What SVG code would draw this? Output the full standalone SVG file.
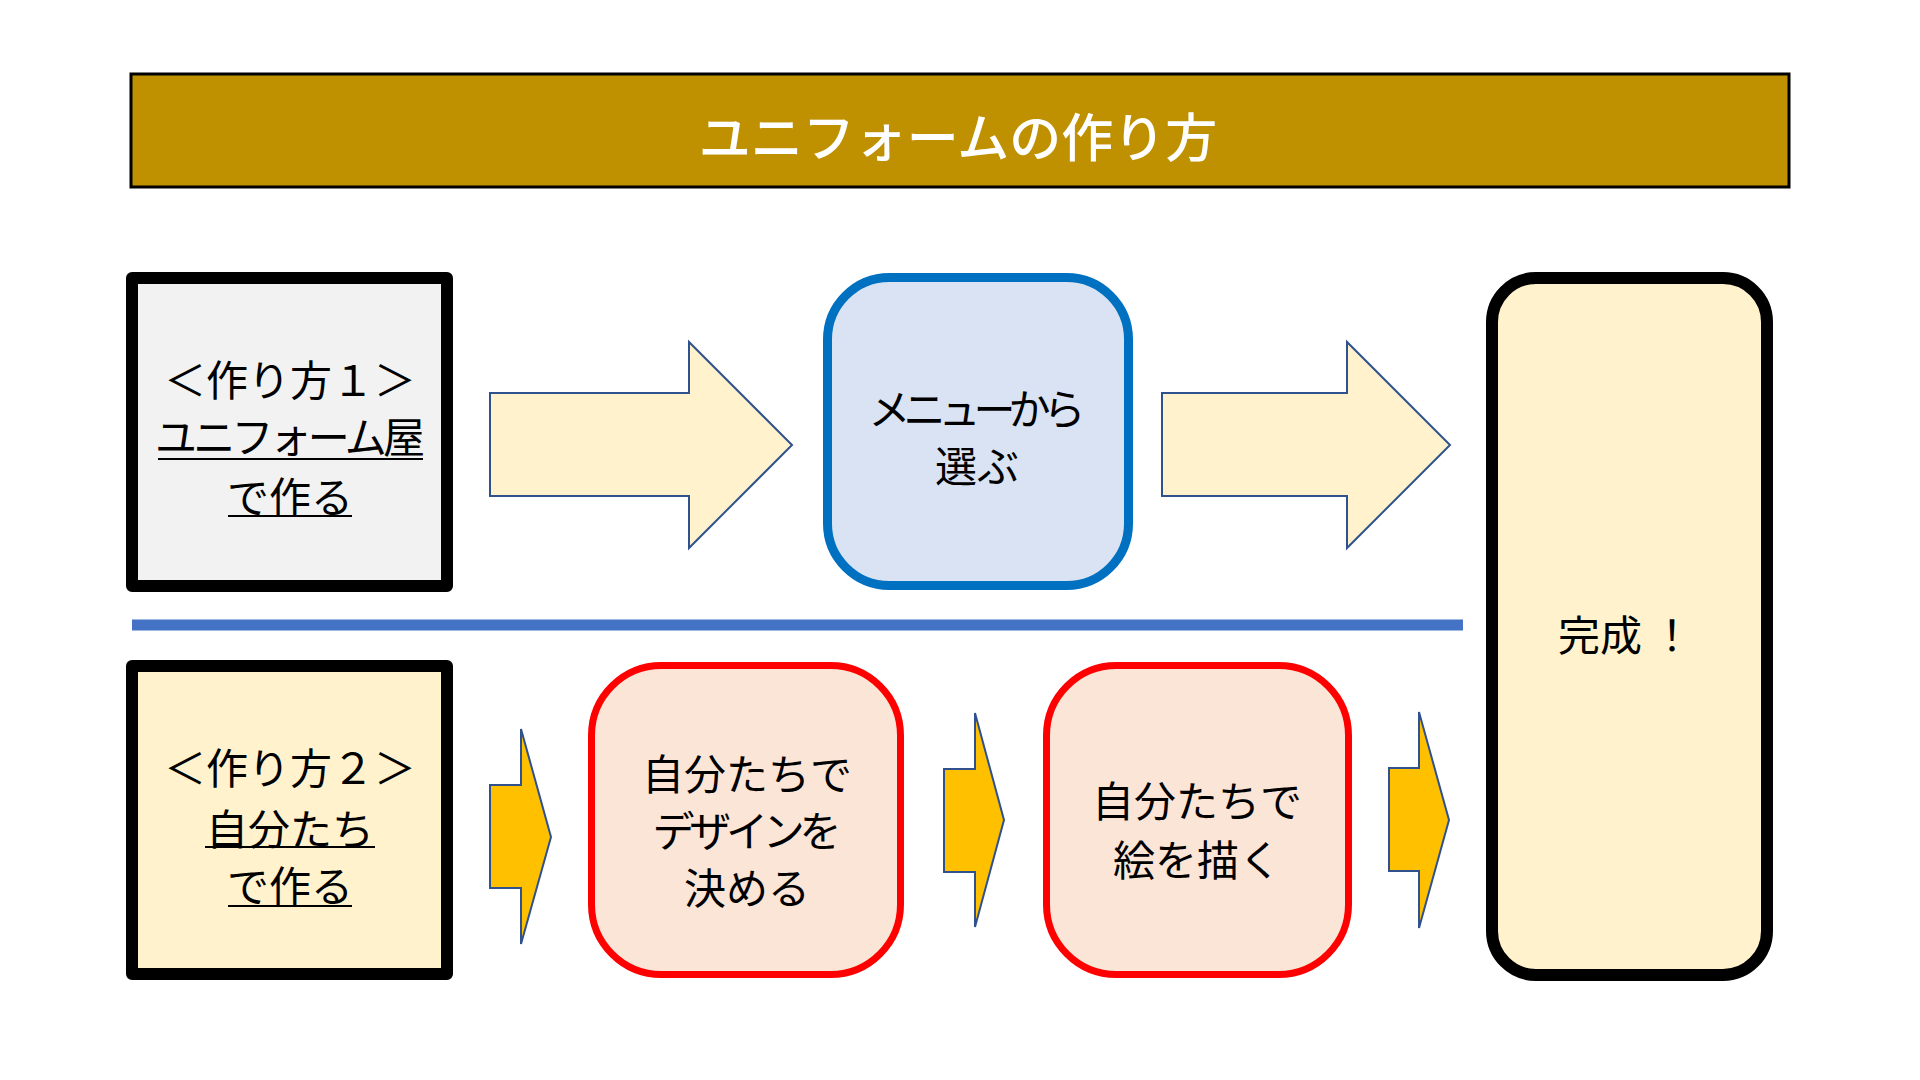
<svg xmlns="http://www.w3.org/2000/svg" width="1920" height="1080" viewBox="0 0 1920 1080">
<defs>
<style>
.t{font-family:"Noto Sans CJK JP","Noto Sans",sans-serif;font-size:42px;fill:#000;text-anchor:middle;dominant-baseline:central}
.ul{stroke:#000;stroke-width:2}
.big{fill:#FFF2CC;stroke:#2F528F;stroke-width:2;stroke-linejoin:miter}
.sm{fill:#FFC000;stroke:#2F528F;stroke-width:2;stroke-linejoin:miter}
.red{fill:#FBE5D6;stroke:#FF0000;stroke-width:7}
</style>
</defs>
<rect width="1920" height="1080" fill="#FFFFFF"/>

<g id="title">
<rect x="131" y="74" width="1658" height="113" fill="#BF9000" stroke="#000" stroke-width="3"/>
<text x="958" y="134" class="t" style="fill:#FFFFFF;font-size:52px;font-weight:500">ユニフォームの作り方</text>
</g>

<g id="separator">
<line x1="132" y1="625" x2="1463" y2="625" stroke="#4472C4" stroke-width="11"/>
</g>

<g id="method1">
<rect x="132" y="278" width="315" height="308" fill="#F2F2F2" stroke="#000" stroke-width="12" stroke-linejoin="round"/>
<text x="290" y="377" class="t">＜作り方１＞</text>
<text x="290" y="434" class="t" textLength="270" lengthAdjust="spacing">ユニフォーム屋</text>
<text x="290" y="494" class="t">で作る</text>
<line x1="158" y1="459" x2="423" y2="459" class="ul"/>
<line x1="228" y1="516" x2="352" y2="516" class="ul"/>
</g>

<g id="method2">
<rect x="132" y="666" width="315" height="308" fill="#FFF2CC" stroke="#000" stroke-width="12" stroke-linejoin="round"/>
<text x="290" y="765" class="t">＜作り方２＞</text>
<text x="290" y="826" class="t">自分たち</text>
<text x="290" y="883" class="t">で作る</text>
<line x1="205" y1="847" x2="375" y2="847" class="ul"/>
<line x1="228" y1="906" x2="352" y2="906" class="ul"/>
</g>

<g id="menu">
<rect x="827.5" y="277.5" width="301" height="308" rx="62" ry="62" fill="#DAE3F3" stroke="#0070C0" stroke-width="9"/>
<text x="977" y="406" class="t" textLength="217" lengthAdjust="spacing">メニューから</text>
<text x="977" y="463" class="t">選ぶ</text>
</g>

<g id="design">
<rect x="591.5" y="665.5" width="309" height="309" rx="70" ry="70" class="red"/>
<text x="747" y="771" class="t">自分たちで</text>
<text x="747" y="828" class="t" textLength="189" lengthAdjust="spacing">デザインを</text>
<text x="747" y="885" class="t">決める</text>
</g>

<g id="draw">
<rect x="1046.5" y="665.5" width="302" height="309" rx="70" ry="70" class="red"/>
<text x="1197" y="798" class="t">自分たちで</text>
<text x="1197" y="857" class="t">絵を描く</text>
</g>

<g id="done">
<rect x="1492" y="278" width="275" height="697" rx="44" ry="44" fill="#FFF2CC" stroke="#000" stroke-width="12"/>
<text x="1558" y="632" class="t" style="text-anchor:start">完成<tspan dx="9">！</tspan></text>
</g>

<g id="connectors">
<path class="big" d="M490,393 H689 V342 L792,445 L689,548 V496 H490 Z"/>
<path class="big" d="M1162,393 H1347 V342 L1450,445 L1347,548 V496 H1162 Z"/>
<path class="sm" d="M490,785 H521 V729 L551,837 L521,944 V888 H490 Z"/>
<path class="sm" d="M944,769 H975 V713 L1004,820 L975,927 V872 H944 Z"/>
<path class="sm" d="M1389,768 H1419 V712 L1449,820 L1419,928 V871 H1389 Z"/>
</g>
</svg>
